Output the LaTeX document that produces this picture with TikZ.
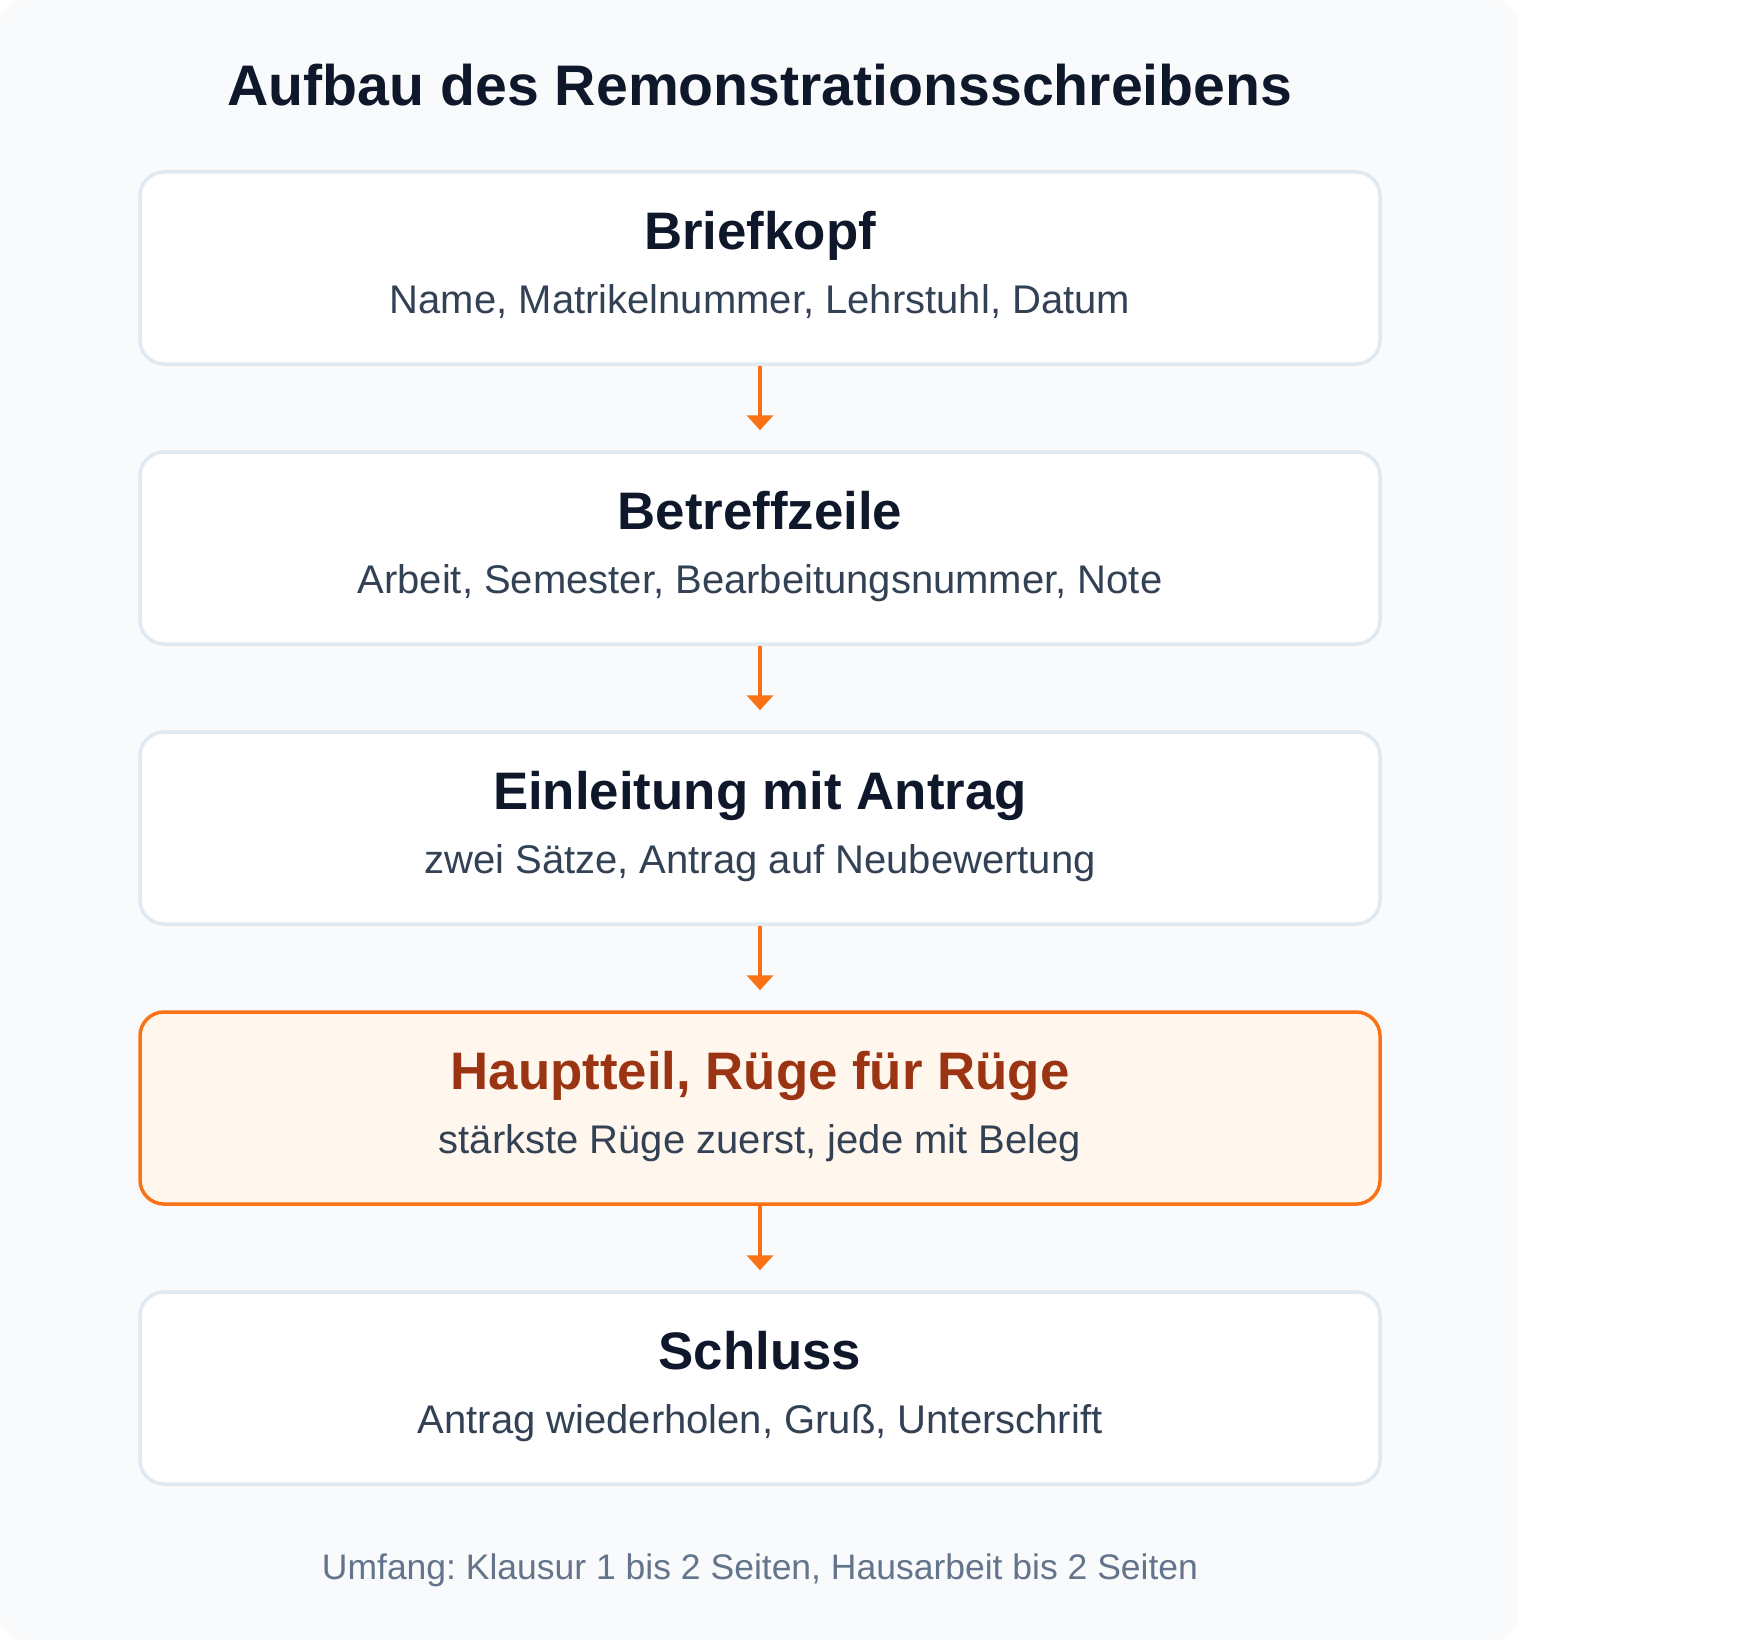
\documentclass[tikz,border=0pt]{standalone}
\usepackage{fontspec}
\setmainfont{Liberation Sans}
\usetikzlibrary{arrows.meta}
\frenchspacing
\definecolor{cardbg}{HTML}{F8FAFC}
\definecolor{boxline}{HTML}{E2E8F0}
\definecolor{ink}{HTML}{0F172A}
\definecolor{subink}{HTML}{334155}
\definecolor{footink}{HTML}{64748B}
\definecolor{hlfill}{HTML}{FFF7ED}
\definecolor{hlline}{HTML}{F97316}
\definecolor{hlink}{HTML}{9A3412}
\tikzset{
  stepbox/.style={draw=boxline, line width=3.5pt, fill=white, rounded corners=24pt,
    minimum width=1240pt, minimum height=192pt, inner sep=0pt},
  hlbox/.style={stepbox, draw=hlline, fill=hlfill},
  boxhead/.style={anchor=base, font=\fontsize{52.8}{56}\selectfont\bfseries, text=ink, inner sep=0pt},
  hlhead/.style={boxhead, text=hlink},
  boxsub/.style={anchor=base, font=\fontsize{40}{44}\selectfont, text=subink, inner sep=0pt},
  flow/.style={draw=hlline, line width=4pt, -{Triangle[width=26pt,length=15pt]}, shorten >=20pt},
}
\begin{document}
\begin{tikzpicture}[x=1pt,y=-1pt]
\useasboundingbox (0,0) rectangle (1760,1640);
\fill[white] (0,0) rectangle (1760,1640);
\fill[cardbg, rounded corners=24pt] (0,0) rectangle (1518,1640);
\node[anchor=base, font=\fontsize{57.2}{61}\selectfont\bfseries, text=ink, inner sep=0pt] (title) at (760,106) {Aufbau des Remonstrationsschreibens};

\node[stepbox] (b1) at (760,268) {};
\node[stepbox] (b2) at (760,548) {};
\node[stepbox] (b3) at (760,828) {};
\node[hlbox]   (b4) at (760,1108) {};
\node[stepbox] (b5) at (760,1388) {};

\node[boxhead] (h1) at (760,249) {Briefkopf};
\node[boxsub]  (s1) at (760,313) {Name, Matrikelnummer, Lehrstuhl, Datum};
\node[boxhead] (h2) at (760,529) {Betreffzeile};
\node[boxsub]  (s2) at (760,593) {Arbeit, Semester, Bearbeitungsnummer, Note};
\node[boxhead] (h3) at (760,809) {Einleitung mit Antrag};
\node[boxsub]  (s3) at (760,873) {zwei Sätze, Antrag auf Neubewertung};
\node[hlhead]  (h4) at (760,1089) {Hauptteil, Rüge für Rüge};
\node[boxsub]  (s4) at (760,1153) {stärkste Rüge zuerst, jede mit Beleg};
\node[boxhead] (h5) at (760,1369) {Schluss};
\node[boxsub]  (s5) at (760,1433) {Antrag wiederholen, Gruß, Unterschrift};

\draw[flow] (b1.south) -- (b2.north);
\draw[flow] (b2.south) -- (b3.north);
\draw[flow] (b3.south) -- (b4.north);
\draw[flow] (b4.south) -- (b5.north);

\node[anchor=base, font=\fontsize{35.5}{39}\selectfont, text=footink, inner sep=0pt] (foot) at (760,1579) {Umfang: Klausur 1 bis 2 Seiten, Hausarbeit bis 2 Seiten};
\end{tikzpicture}
\end{document}
